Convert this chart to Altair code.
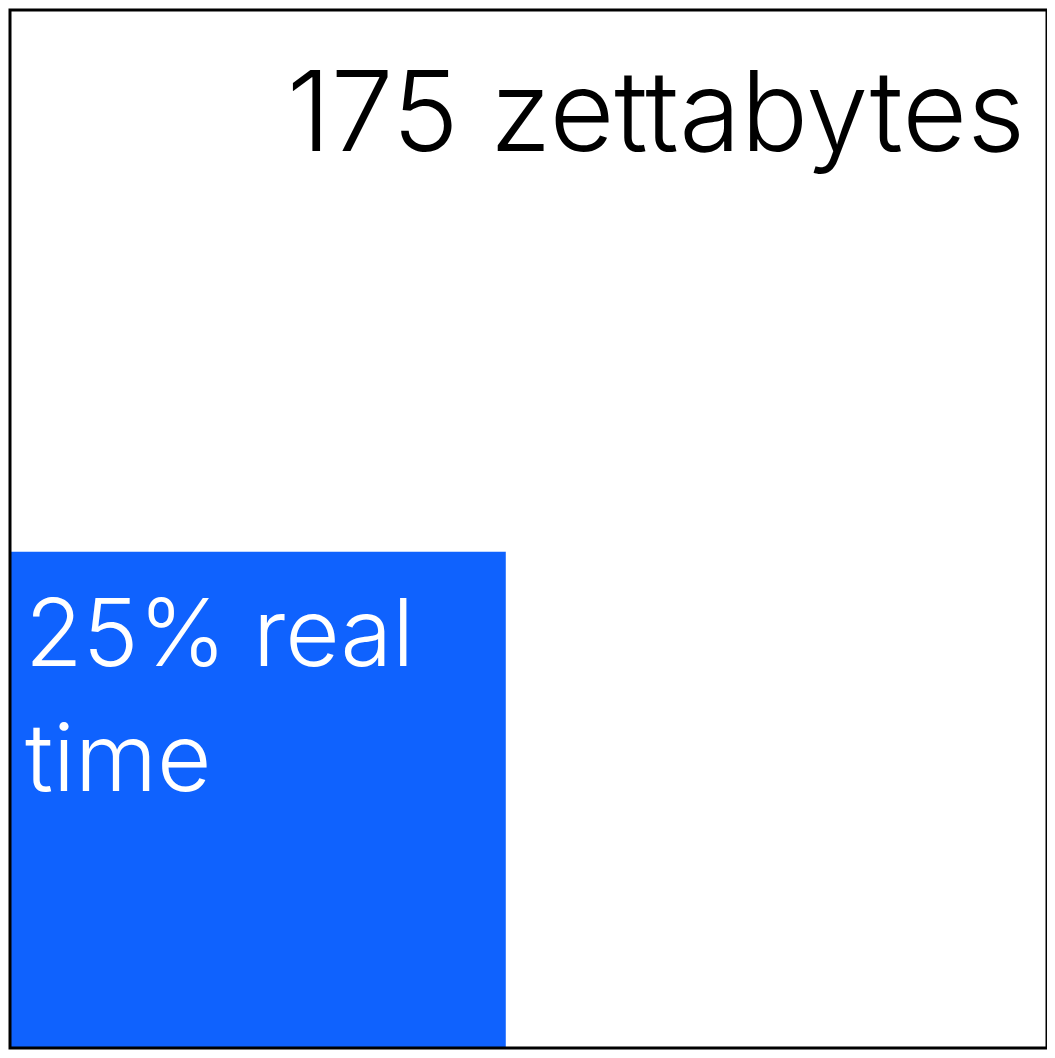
import altair as alt
import pandas as pd
import math

# Data
total_zb = 175
real_time_zb = 40          # blue square size
total_label = "175 zettabytes"
real_time_label = ["25% real", "time"]

S = math.sqrt(total_zb)
s = math.sqrt(real_time_zb)

outer = pd.DataFrame({"x0": [0.0], "x1": [S], "y0": [0.0], "y1": [S], "label": [total_label]})
inner = pd.DataFrame({"x0": [0.0], "x1": [s], "y0": [0.0], "y1": [s]})
inner_lbl = pd.DataFrame({"x": [0.0], "y": [s], "label": [real_time_label]})

xs = alt.Scale(domain=[0, S], nice=False, zero=True)
ys = alt.Scale(domain=[0, S], nice=False, zero=True)

blue = alt.Chart(inner).mark_rect(color="#0f62fe").encode(
    x=alt.X("x0:Q", scale=xs, axis=None), x2="x1",
    y=alt.Y("y0:Q", scale=ys, axis=None), y2="y1",
)

frame = alt.Chart(outer).mark_rect(fill=None, fillOpacity=0, stroke="black", strokeWidth=3).encode(
    x=alt.X("x0:Q", scale=xs, axis=None), x2="x1",
    y=alt.Y("y0:Q", scale=ys, axis=None), y2="y1",
)

title_txt = alt.Chart(outer).mark_text(
    align="right", baseline="alphabetic", dx=-22, dy=141,
    font="Inter", fontWeight=300, fontSize=112, color="black",
).encode(
    x=alt.X("x1:Q", scale=xs, axis=None),
    y=alt.Y("y1:Q", scale=ys, axis=None),
    text="label:N",
)

blue_txt = alt.Chart(inner_lbl).mark_text(
    align="left", baseline="alphabetic", dx=15, dy=114, lineHeight=125,
    font="Inter", fontWeight=300, fontSize=94, color="white",
).encode(
    x=alt.X("x:Q", scale=xs, axis=None),
    y=alt.Y("y:Q", scale=ys, axis=None),
    text="label",
)

chart = alt.layer(blue, frame, title_txt, blue_txt).properties(
    width=1037, height=1038,
    padding={"left": 2, "top": 2, "right": 0, "bottom": 2},
    autosize=alt.AutoSizeParams(type="none"),
).configure_view(stroke=None)

chart.save("out.html", embed_options={"renderer": "svg", "actions": False})
